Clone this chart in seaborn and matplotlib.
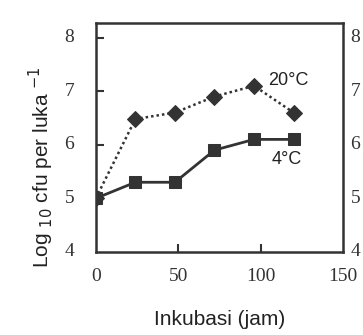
import seaborn as sns
import matplotlib.pyplot as plt
import pandas as pd

jam = [0, 24, 48, 72, 96, 120]
suhu_4 = [5.0, 5.3, 5.3, 5.9, 6.1, 6.1]
suhu_20 = [5.0, 6.48, 6.6, 6.9, 7.1, 6.6]
yticks = [4, 5, 6, 7, 8]
xticks = [0, 50, 100, 150]

if __name__ == '__main__':
    sns.set_style("white")
    plt.rcParams['font.family'] = ['Liberation Sans', 'DejaVu Sans']

    data = pd.DataFrame({'jam': jam, '4': suhu_4, '20': suhu_20})

    fig = plt.figure(figsize=(3.63, 3.35), dpi=100)
    graf = fig.add_axes([0.264, 0.248, 0.681, 0.683])

    # kurva 4 C (garis tegas, kotak)
    sns.lineplot(data=data, x='jam', y='4', ax=graf, color='#333333',
                 marker='s', markersize=8.5, linewidth=2, markeredgecolor='#333333')
    # kurva 20 C (garis titik-titik, belah ketupat)
    sns.lineplot(data=data, x='jam', y='20', ax=graf, color='#333333',
                 marker='D', markersize=8, linewidth=1.8, linestyle=(0, (1, 1.2)),
                 markeredgecolor='#333333')

    graf.set_xlim(0, 150)
    graf.set_ylim(4, 8.27)
    graf.set_xticks([50, 100])
    graf.set_xticklabels([])
    graf.set_yticks([5, 6, 7, 8])
    graf.set_yticklabels([])
    graf.tick_params(axis='both', direction='in', length=6, width=1.5,
                     color='#333333', bottom=True, left=True)
    for s in graf.spines.values():
        s.set_linewidth(1.8)
        s.set_color('#333333')

    # label sumbu dengan huruf serif
    serif = dict(family='Liberation Serif', fontsize=14, color='#333333')
    for t in xticks:
        graf.text(t, 3.55, str(t), ha='center', va='center', **serif)
    for t in yticks:
        graf.text(-16, t, str(t), ha='center', va='center', **serif)
        graf.text(157.5, t, str(t), ha='center', va='center', **serif)

    graf.text(117, 7.2, "20°C", ha='center', va='center', fontsize=13, color='#222222')
    graf.text(116, 5.72, "4°C", ha='center', va='center', fontsize=13, color='#222222')

    graf.set_xlabel("")
    graf.set_ylabel("")
    fig.text(0.606, 0.045, "Inkubasi (jam)", ha='center', va='center',
             fontsize=15, color='#222222')
    fig.text(0.115, 0.5, r"Log $_{10}$ cfu per luka $^{-1}$", ha='center',
             va='center', rotation=90, fontsize=15, color='#222222')

    fig.savefig("out.png", dpi=100)
    plt.close(fig)
